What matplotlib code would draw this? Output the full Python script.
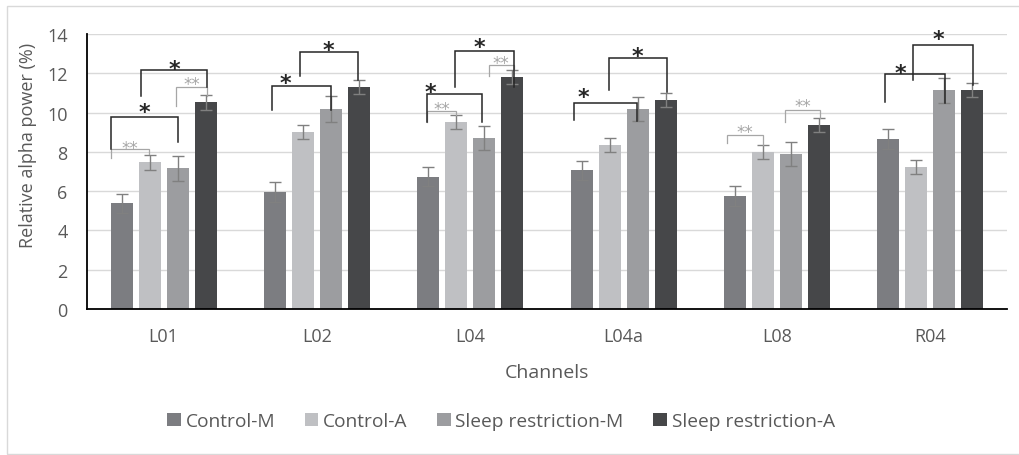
import matplotlib
matplotlib.use("Agg")
import matplotlib.pyplot as plt
import numpy as np
from matplotlib.patches import Rectangle

# ---------------- data ----------------
channels = ["L01", "L02", "L04", "L04a", "L08", "R04"]
series_names = ["Control-M", "Control-A", "Sleep restriction-M", "Sleep restriction-A"]

control_m = [5.38, 5.96, 6.74, 7.06, 5.75, 8.66]
control_a = [7.47, 9.00, 9.52, 8.33, 7.99, 7.23]
sleep_m = [7.16, 10.18, 8.71, 10.18, 7.89, 11.13]
sleep_a = [10.52, 11.29, 11.80, 10.64, 9.35, 11.15]

control_m_err = [0.50, 0.50, 0.50, 0.50, 0.50, 0.50]
control_a_err = [0.38, 0.37, 0.38, 0.36, 0.37, 0.37]
sleep_m_err = [0.65, 0.65, 0.60, 0.63, 0.63, 0.63]
sleep_a_err = [0.37, 0.36, 0.37, 0.37, 0.36, 0.36]

# significance brackets: (channel, from bar, to bar, top, left leg end, right leg end, label, label bar pos, label y)
brackets = [
    (0, -0.36, 0.96, 8.13, 7.67, 7.90, "**", None, 8.45),
    (0, -0.36, 2.00, 9.79, 8.13, 8.49, "*", None, 10.40),
    (0, 1.93, 3.05, 11.29, 10.35, 10.85, "**", None, 11.68),
    (0, 0.68, 3.05, 12.17, 10.86, 11.29, "*", None, 12.58),
    (1, -0.09, 2.00, 11.34, 10.13, 10.15, "*", 0.36, 11.88),
    (1, 0.88, 2.96, 13.07, 11.85, 11.66, "*", None, 13.54),
    (2, -0.04, 1.00, 10.08, 9.50, 9.88, "**", None, 10.42),
    (2, -0.04, 1.92, 10.95, 9.50, 9.50, "*", 0.06, 11.42),
    (2, 2.18, 3.05, 12.44, 11.88, 12.17, "**", 2.60, 12.76),
    (2, 0.97, 3.05, 13.12, 11.29, 11.30, "*", 1.84, 13.71),
    (3, -0.26, 1.97, 10.47, 9.62, 9.59, "*", 0.07, 11.15),
    (3, 0.96, 3.05, 12.77, 11.15, 11.07, "*", None, 13.24),
    (4, -0.27, 1.00, 8.86, 8.44, 8.37, "**", None, 9.25),
    (4, 1.79, 3.04, 10.13, 9.54, 9.71, "**", None, 10.57),
    (5, -0.12, 2.02, 11.97, 10.52, 10.49, "*", 0.42, 12.39),
    (5, 0.89, 3.02, 13.46, 11.67, 11.42, "*", 1.80, 14.09),
]

# ---------------- styling ----------------
plt.rcParams["font.family"] = ["Open Sans", "DejaVu Sans"]
colors = ["#7c7d81", "#bfc0c3", "#9c9da0", "#464749"]
txt_col = "#595959"
err_col = "#808080"
grid_col = "#d9d9d9"

fig = plt.figure(figsize=(10.2, 4.56), dpi=100)
fig.patches.append(Rectangle((7 / 1020, 1 / 456), 1 - 7 / 1020 + 0.01, 1 - 8 / 456,
                             transform=fig.transFigure, fill=False,
                             edgecolor="#d9d9d9", linewidth=1.0))
ax = fig.add_axes([87 / 1020, 1 - 310 / 456, (1007 - 87) / 1020, (310 - 35) / 456])

values = [control_m, control_a, sleep_m, sleep_a]
errors = [control_m_err, control_a_err, sleep_m_err, sleep_a_err]
x = np.arange(len(channels))
spacing = 0.183
width = 0.144

for i, (vals, errs) in enumerate(zip(values, errors)):
    pos = x + (i - 1.5) * spacing
    ax.bar(pos, vals, width, color=colors[i], label=series_names[i], zorder=2)
    ax.errorbar(pos, vals, yerr=errs, fmt="none", ecolor=err_col,
                elinewidth=1.0, capsize=4.3, capthick=1.0, zorder=3)

def bx(g, k):
    return g + (k - 1.5) * spacing

for g, k1, k2, top, lb, rb, lab, kt, ty in brackets:
    x1, x2 = bx(g, k1), bx(g, k2)
    black = lab == "*"
    lc = "#262626" if black else "#a6a6a6"
    lw = 1.1 if black else 0.9
    ax.plot([x1, x1, x2, x2], [lb, top, top, rb], color=lc, lw=lw,
            zorder=4, clip_on=False, solid_joinstyle="miter")
    tx = (x1 + x2) / 2 if kt is None else bx(g, kt)
    fs = 16 if black else 12
    ax.annotate(lab, (tx, ty), xytext=(0, -0.58 * fs), textcoords="offset points",
                ha="center", va="baseline", fontsize=fs, color=lc,
                family="DejaVu Sans", fontweight="bold" if black else "normal",
                annotation_clip=False, zorder=5)

ax.set_xlim(-0.5, 5.5)
ax.set_ylim(0, 14)
ax.set_yticks(np.arange(0, 15, 2))
ax.set_xticks(x)
ax.set_xticklabels(channels)
ax.yaxis.grid(True, color=grid_col, linewidth=1.0, zorder=0)
ax.set_axisbelow(True)
for s in ["top", "right"]:
    ax.spines[s].set_visible(False)
ax.spines["left"].set_color("black")
ax.spines["left"].set_linewidth(1.3)
ax.spines["bottom"].set_color("black")
ax.spines["bottom"].set_linewidth(1.3)
ax.tick_params(axis="both", length=0, labelsize=13, labelcolor=txt_col)
ax.tick_params(axis="x", pad=13)
ax.tick_params(axis="y", pad=14)
ax.set_ylabel("Relative alpha power (%)", fontsize=13, color=txt_col)
ax.yaxis.set_label_coords(-50 / 920, (310 - 145) / 275)
ax.set_xlabel("Channels", fontsize=14, color=txt_col, labelpad=13)

handles, labels = ax.get_legend_handles_labels()
fig.legend(handles, labels, loc="center", bbox_to_anchor=(501 / 1020, 1 - 422 / 456),
           ncol=4, frameon=False, fontsize=13.8, labelcolor=txt_col,
           handlelength=0.7, handleheight=0.7, handletextpad=0.25, columnspacing=1.55)

fig.savefig("out.png", dpi=100)
